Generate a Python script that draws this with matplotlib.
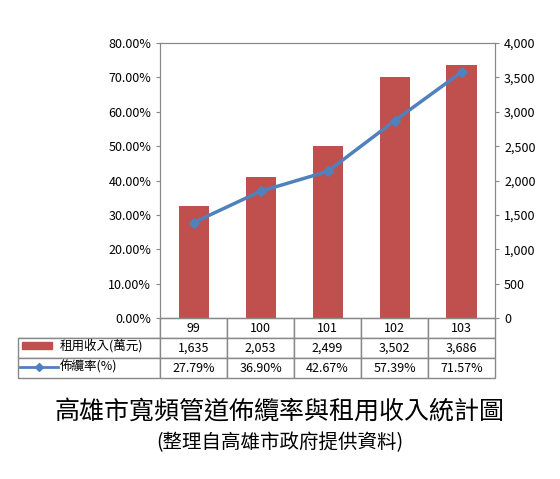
import matplotlib.pyplot as plt
from matplotlib.patches import Rectangle
from matplotlib.lines import Line2D

plt.rcParams['font.family'] = ['Noto Sans CJK TC', 'DejaVu Sans']

years = ['99', '100', '101', '102', '103']
income = [1635, 2053, 2499, 3502, 3686]
rate = [27.79, 36.90, 42.67, 57.39, 71.57]
row_labels = ['租用收入(萬元)', '佈纜率(%)']

bar_color = '#c0504d'
line_color = '#4f81bd'

fig = plt.figure(figsize=(5.6, 4.79), dpi=100)
ax = fig.add_axes([0.286, 0.336, 0.598, 0.574])
ax2 = ax.twinx()

x = list(range(len(years)))
ax2.bar(x, income, width=0.45, color=bar_color, zorder=2)
ax2.set_ylim(0, 4000)
ax2.set_yticks(range(0, 4001, 500))
ax2.set_yticklabels([f'{v:,}' for v in range(0, 4001, 500)], fontsize=9)

ax.plot(x, rate, color=line_color, lw=2.5, marker='D', ms=5, zorder=5)
ax.set_zorder(ax2.get_zorder() + 1)
ax.patch.set_visible(False)
ax.set_ylim(0, 80)
ax.set_yticks(range(0, 81, 10))
ax.set_yticklabels([f'{v:.2f}%' for v in range(0, 81, 10)], fontsize=9)
ax.set_xlim(-0.5, 4.5)
ax.set_xticks([])
for a in (ax, ax2):
    a.tick_params(length=3, color='#888888')
    for s in a.spines.values():
        s.set_color('#888888')

cells = [[''] + years,
         [''] + [f'{v:,}' for v in income],
         [''] + [f'{v:.2f}%' for v in rate]]
label_w = 142 / 335
tab = ax.table(cellText=cells, colWidths=[label_w] + [0.2] * 5,
               bbox=[-label_w, -0.218, 1 + label_w, 0.218], cellLoc='center')
tab.auto_set_font_size(False)
for (r, c), cell in tab.get_celld().items():
    cell.set_fontsize(9)
    cell.set_edgecolor('#888888')
    if r == 0 and c == 0:
        cell.visible_edges = 'BR'

# legend keys and row labels
fig.patches.append(Rectangle((22 / 560, 1 - 349 / 479), 30 / 560, 7 / 479,
                             transform=fig.transFigure, color=bar_color))
fig.lines.append(Line2D([20 / 560, 39 / 560, 58 / 560], [1 - 367 / 479] * 3,
                        transform=fig.transFigure, color=line_color, lw=2,
                        marker='D', ms=4, markevery=[1]))
fig.text(60 / 560, 1 - 346 / 479, row_labels[0], ha='left', va='center', fontsize=9)
fig.text(60 / 560, 1 - 367 / 479, row_labels[1], ha='left', va='center', fontsize=9)

fig.text(0.5, 1 - 412 / 479, '高雄市寬頻管道佈纜率與租用收入統計圖', ha='center', va='center', fontsize=18)
fig.text(0.5, 1 - 443 / 479, '(整理自高雄市政府提供資料)', ha='center', va='center', fontsize=14)

fig.savefig('out.png', dpi=100)
